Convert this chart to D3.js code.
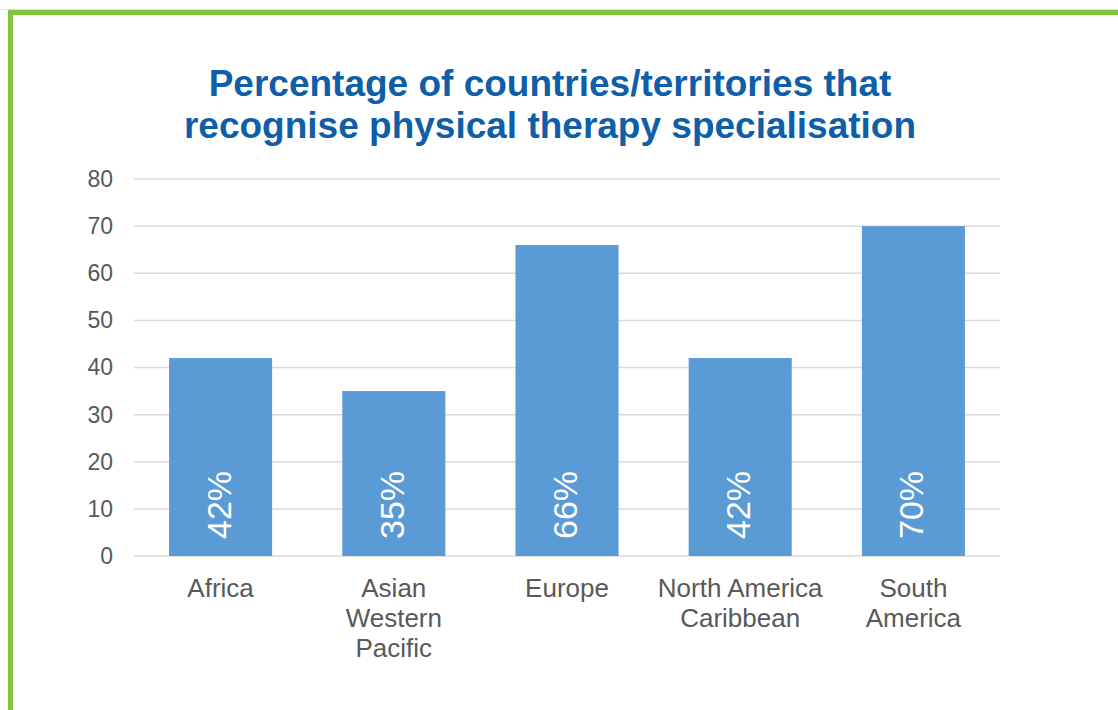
<!DOCTYPE html>
<html>
<head>
<meta charset="utf-8">
<script src="https://cdn.jsdelivr.net/npm/d3@7"></script>
<style>
body { margin: 0; background: #fff; }
text { font-family: "Liberation Sans", Arial, sans-serif; }
</style>
</head>
<body>
<script>
var categories = [["Africa"], ["Asian", "Western", "Pacific"], ["Europe"], ["North America", "Caribbean"], ["South", "America"]];
var values = [42, 35, 66, 42, 70];
var barLabels = ["42%", "35%", "66%", "42%", "70%"];
var yTicks = [0, 10, 20, 30, 40, 50, 60, 70, 80];
var titleLines = ["Percentage of countries/territories that", "recognise physical therapy specialisation"];

var w = 1118, h = 710;
var plotLeft = 134, plotRight = 1000, plotTop = 179, plotBottom = 556;

var svg = d3.select("body").append("svg").attr("width", w).attr("height", h);

// green frame (top and left only)
svg.append("line").attr("x1", 0).attr("x2", w).attr("y1", 9.5).attr("y2", 9.5)
.attr("stroke", "#e0e0e0").attr("stroke-width", 1);
svg.append("rect").attr("x", 8).attr("y", 10).attr("width", w).attr("height", 5).attr("fill", "#80c63c");
svg.append("rect").attr("x", 8).attr("y", 10).attr("width", 5).attr("height", h).attr("fill", "#80c63c");

svg.selectAll("text.title").data(titleLines).enter().append("text")
.attr("class", "title")
.text(function(d){ return d; })
.attr("x", 550)
.attr("y", function(d, i){ return 96 + i * 42; })
.attr("text-anchor", "middle")
.attr("font-size", "37px")
.attr("font-weight", "bold")
.attr("fill", "#0e5ea8");

var xScale = d3.scaleBand()
.domain(d3.range(values.length))
.range([plotLeft, plotRight])
.paddingInner(0.405)
.paddingOuter(0.2025);

var yScale = d3.scaleLinear()
.domain([0, 80])
.range([plotBottom, plotTop]);

// gridlines
svg.selectAll("line.grid").data(yTicks).enter().append("line")
.attr("class", "grid")
.attr("x1", plotLeft).attr("x2", plotRight)
.attr("y1", function(d){ return yScale(d); })
.attr("y2", function(d){ return yScale(d); })
.attr("stroke", "#d9d9d9")
.attr("stroke-width", 1.5);

var yAxis = d3.axisLeft(yScale).tickValues(yTicks).tickSize(0).tickPadding(0);
var gy = svg.append("g").attr("transform", "translate(" + 113 + ",0)").call(yAxis);
gy.select(".domain").remove();
gy.selectAll("text").attr("font-size", "23px").attr("fill", "#595959")
.attr("font-family", "Liberation Sans, Arial, sans-serif");

svg.selectAll("rect.bar").data(values).enter().append("rect")
.attr("class", "bar")
.attr("x", function(d, i){ return xScale(i); })
.attr("y", function(d){ return yScale(d); })
.attr("width", xScale.bandwidth())
.attr("height", function(d){ return yScale(0) - yScale(d); })
.attr("fill", "#5b9bd5");

svg.selectAll("text.val").data(barLabels).enter().append("text")
.attr("class", "val")
.text(function(d){ return d; })
.attr("transform", function(d, i){
    var cx = xScale(i) + xScale.bandwidth() / 2 + 10;
    return "translate(" + cx + "," + 539 + ") rotate(-90)";
})
.attr("font-size", "34px")
.attr("fill", "#fff");

var cat = svg.selectAll("text.cat").data(categories).enter().append("text")
.attr("class", "cat")
.attr("text-anchor", "middle")
.attr("font-size", "26px")
.attr("fill", "#595959");
cat.selectAll("tspan").data(function(d, i){
    return d.map(function(s){ return {s: s, i: i}; });
}).enter().append("tspan")
.text(function(d){ return d.s; })
.attr("x", function(d){ return xScale(d.i) + xScale.bandwidth() / 2; })
.attr("y", function(d, j){ return 597 + j * 30; });
</script>
</body>
</html>
